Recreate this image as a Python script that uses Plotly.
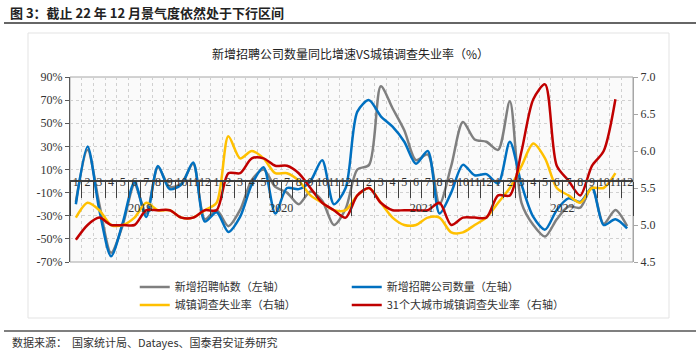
import plotly.graph_objects as go

years = ['2019', '2020', '2021', '2022']
months = [str(m) for m in range(1, 13)]

# 新增招聘帖数（左轴，%）
posts_yoy = [-18, 27, -20, -62, -38, -3, -28, 12, -5, -2, 15, -33,
             -25, -39, -25, 1, 10, -5, -10, -20, -9, -17, -38, -24,
             10, 14, 82, 63, 44, 18, 23, -20, 13, 51, 36, 34,
             27, 69, -19, -38, -48, -33, -22, -23, -5, -37, -25, -39]
# 新增招聘公司数量（左轴，%）
firms_yoy = [-20, 30, -25, -65, -36, -1, -31, 13, -7, -3, 16, -35,
             -27, -44, -31, -3, 12, -28, -6, -7, 0, 18, -20, -6,
             60, 70, 56, 47, 34, 15, 26, -28, -10, 14, 5, 6,
             -2, 34, -3, -31, -42, -25, -15, -18, -6, -38, -33, -41]
# 城镇调查失业率（右轴，%）
urban_rate = [5.1, 5.3, 5.2, 5.0, 5.0, 5.1, 5.3, 5.2, 5.2, 5.1, 5.1, 5.2,
              5.3, 6.2, 5.9, 6.0, 5.9, 5.7, 5.7, 5.6, 5.4, 5.3, 5.2, 5.2,
              5.4, 5.5, 5.3, 5.1, 5.0, 5.0, 5.1, 5.1, 4.9, 4.9, 5.0, 5.1,
              5.3, 5.5, 5.8, 6.1, 5.9, 5.5, 5.4, 5.3, 5.5, 5.5, 5.7, None]
# 31个大城市城镇调查失业率（右轴，%）
city31_rate = [4.8, 5.0, 5.1, 5.0, 5.0, 5.0, 5.2, 5.2, 5.2, 5.1, 5.1, 5.2,
               5.2, 5.7, 5.7, 5.9, 5.9, 5.8, 5.8, 5.7, 5.5, 5.3, 5.2, 5.1,
               5.4, 5.5, 5.3, 5.2, 5.2, 5.2, 5.2, 5.3, 5.0, 5.1, 5.1, 5.1,
               5.4, 5.4, 6.0, 6.7, 6.9, 5.8, 5.6, 5.4, 5.8, 6.0, 6.7, None]

left_ticks = [-70, -50, -30, -10, 10, 30, 50, 70, 90]
right_ticks = [4.5, 5.0, 5.5, 6.0, 6.5, 7.0]

x_multi = [[y for y in years for _ in months], [m for _ in years for m in months]]

CJK = "Noto Sans CJK SC"
SERIF = "Liberation Serif"

fig = go.Figure()
series = [
    ("新增招聘帖数（左轴）", posts_yoy, "#7f7f7f", "y", "legend"),
    ("新增招聘公司数量（左轴）", firms_yoy, "#0070c0", "y", "legend"),
    ("城镇调查失业率（右轴）", urban_rate, "#ffc000", "y2", "legend2"),
    ("31个大城市城镇调查失业率（右轴）", city31_rate, "#c00000", "y2", "legend2"),
]
for name, vals, color, yax, lg in series:
    fig.add_trace(go.Scatter(
        x=x_multi, y=vals, name=name, mode="lines", yaxis=yax, legend=lg,
        line=dict(color=color, width=2.5, shape="spline", smoothing=0.8),
        connectgaps=False,
    ))

lmin, lmax = -70, 90
zero_frac = (0 - lmin) / (lmax - lmin)

fig.update_layout(
    width=700, height=354,
    margin=dict(l=70, r=67, t=77, b=92),
    paper_bgcolor="white",
    plot_bgcolor="#fafafa",
    font=dict(family=SERIF, size=12, color="#404040"),
    xaxis=dict(
        type="multicategory", anchor="free", position=zero_frac,
        showline=True, linecolor="#404040", linewidth=1.5,
        ticks="outside", tickson="boundaries", ticklen=16, tickcolor="#404040",
        tickwidth=1.2,
        tickmode="linear", tick0=0, dtick=1, tickangle=0,
        showgrid=True, gridcolor="#d0d0d0", griddash="dot",
        showdividers=True, dividercolor="#404040", dividerwidth=1.2,
        tickfont=dict(family=SERIF, size=12, color="#333"),
        ticklabelstandoff=-10,
        range=[-0.5, 47.5],
    ),
    yaxis=dict(
        range=[lmin, lmax], tickvals=left_ticks,
        ticktext=[f"{v}%" for v in left_ticks],
        showline=True, linecolor="#595959", linewidth=1,
        ticks="outside", ticklen=4, tickcolor="#595959",
        showgrid=True, gridcolor="#d0d0d0", griddash="dot",
        zeroline=False,
        tickfont=dict(family=SERIF, size=12, color="#333"),
    ),
    yaxis2=dict(
        range=[4.5, 7.0], tickvals=right_ticks,
        ticktext=[f"{v:.1f}" for v in right_ticks],
        overlaying="y", side="right",
        showline=True, linecolor="#a6a6a6", linewidth=1,
        ticks="outside", ticklen=4, tickcolor="#a6a6a6",
        showgrid=False, zeroline=False,
        tickfont=dict(family=SERIF, size=12, color="#333"),
    ),
    legend=dict(
        orientation="h", x=0.115, xanchor="left", y=-0.135, yanchor="middle",
        entrywidth=167, entrywidthmode="pixels", bgcolor="rgba(0,0,0,0)",
        font=dict(family=CJK, size=11, color="#333"), itemwidth=30,
        tracegroupgap=0,
    ),
    legend2=dict(
        orientation="h", x=0.115, xanchor="left", y=-0.232, yanchor="middle",
        entrywidth=167, entrywidthmode="pixels", bgcolor="rgba(0,0,0,0)",
        font=dict(family=CJK, size=11, color="#333"), itemwidth=30,
        tracegroupgap=0,
    ),
    showlegend=True,
)

# plot area frame
fig.add_shape(type="rect", xref="paper", yref="paper", x0=0, x1=1, y0=0, y1=1,
              line=dict(color="#a6a6a6", width=1), layer="below")
# outer chart box
fig.add_shape(type="rect", xref="paper", yref="paper",
              x0=(28 - 70) / 563, x1=(669 - 70) / 563,
              y0=(262 - 318) / 185, y1=(262 - 33) / 185,
              line=dict(color="#e3e3e3", width=1), layer="below")
# title rule and footer rule
fig.add_shape(type="line", xref="paper", yref="paper",
              x0=(4 - 70) / 563, x1=(696 - 70) / 563,
              y0=(262 - 23) / 185, y1=(262 - 23) / 185,
              line=dict(color="#333", width=1.5))
fig.add_shape(type="line", xref="paper", yref="paper",
              x0=(4 - 70) / 563, x1=(696 - 70) / 563,
              y0=(262 - 331) / 185, y1=(262 - 331) / 185,
              line=dict(color="#555", width=1.5))

fig.add_annotation(text="<b>图 3：截止 22 年 12 月景气度依然处于下行区间</b>",
                   xref="paper", yref="paper", x=(8 - 70) / 563, y=(262 - 12) / 185,
                   xanchor="left", yanchor="middle", showarrow=False,
                   font=dict(family=CJK, size=13, color="#222"))
fig.add_annotation(text="新增招聘公司数量同比增速VS城镇调查失业率（%）",
                   xref="paper", yref="paper", x=(350 - 70) / 563, y=(262 - 54) / 185,
                   xanchor="center", yanchor="middle", showarrow=False,
                   font=dict(family=CJK, size=12, color="#222"))
fig.add_annotation(text="数据来源：  国家统计局、Datayes、国泰君安证券研究",
                   xref="paper", yref="paper", x=(10 - 70) / 563, y=(262 - 342) / 185,
                   xanchor="left", yanchor="middle", showarrow=False,
                   font=dict(family=CJK, size=11, color="#333"))

fig.write_html("out.html")
